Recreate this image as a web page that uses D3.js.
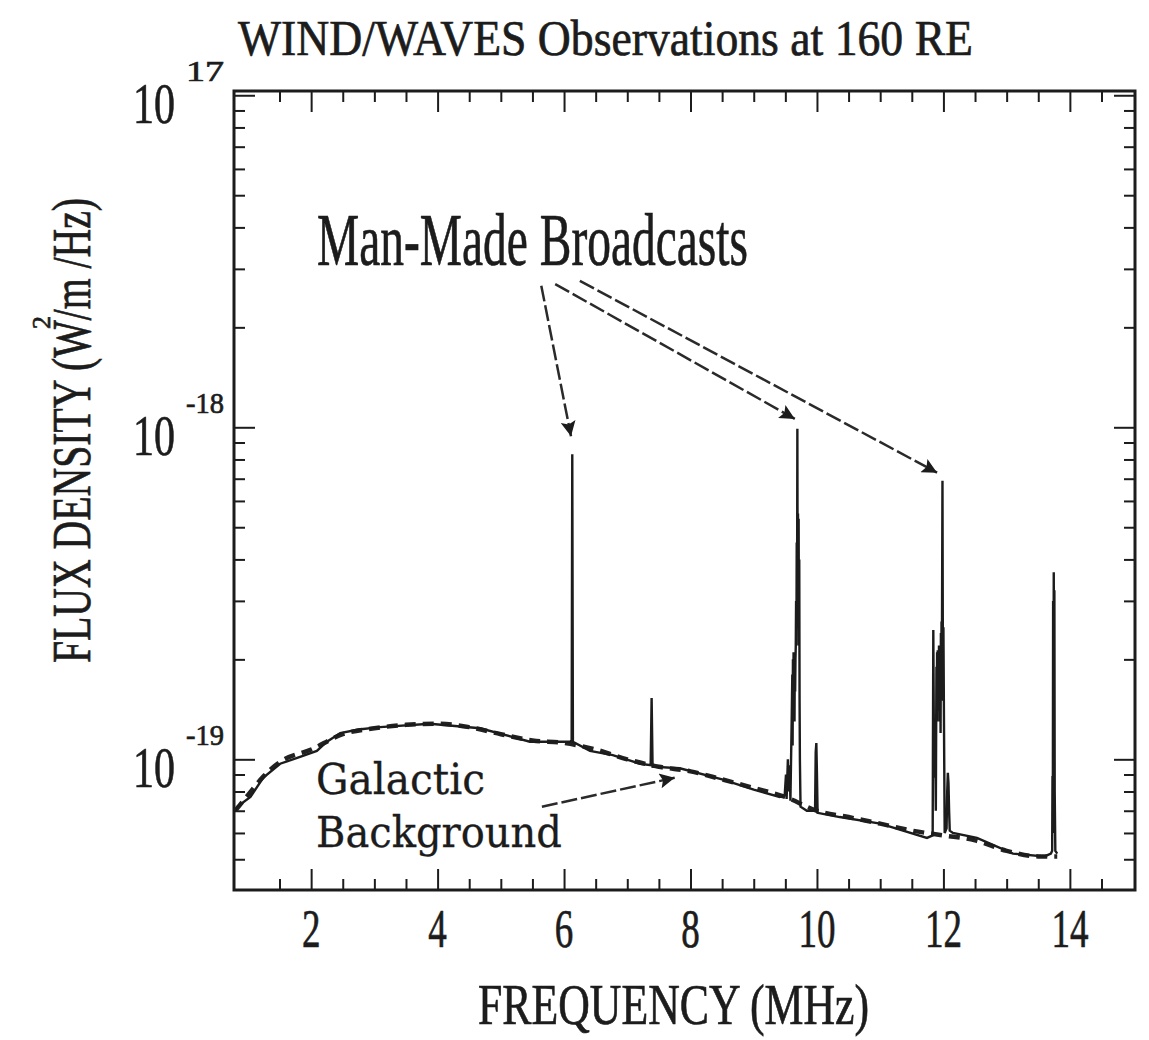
<!DOCTYPE html>
<html>
<head>
<meta charset="utf-8">
<script src="https://cdn.jsdelivr.net/npm/d3@7"></script>
<style>
body { margin: 0; background: #fff; }
text { font-family: "Liberation Serif", "Times New Roman", serif; fill: #1c1c1c; stroke: #1c1c1c; stroke-width: 0.7; }
</style>
</head>
<body>
<div class="canvas"></div>
<script>
// what to show
var freqTicks = [2, 4, 6, 8, 10, 12, 14];
var fluxTicks = [1e-17, 1e-18, 1e-19];
var fluxTickExp = ['17', '-18', '-19'];

// measured spectrum, [MHz, W/m2/Hz]
var spectrum = [
    [0.80, 7.0e-20], [0.83, 7.2e-20], [1.04, 7.7e-20], [1.24, 8.8e-20],
    [1.51, 9.7e-20], [1.78, 1.01e-19], [2.09, 1.06e-19], [2.25, 1.13e-19],
    [2.46, 1.20e-19], [2.75, 1.23e-19], [3.09, 1.25e-19], [3.88, 1.28e-19],
    [4.67, 1.24e-19], [5.46, 1.13e-19], [6.10, 1.13e-19],
    [6.12, 1.14e-19], [6.13, 8.3e-19], [6.14, 1.13e-19],
    [6.41, 1.06e-19], [6.77, 1.03e-19], [7.20, 9.7e-20],
    [7.37, 9.6e-20], [7.385, 1.53e-19], [7.40, 9.5e-20],
    [7.83, 9.4e-20], [8.50, 8.7e-20], [9.00, 8.1e-20], [9.41, 7.7e-20],
    [9.49, 7.8e-20], [9.51, 9.0e-20], [9.52, 7.6e-20], [9.54, 1.0e-19],
    [9.55, 8.0e-20], [9.57, 9.6e-20], [9.58, 7.5e-20], [9.60, 1.3e-19],
    [9.61, 1.8e-19], [9.615, 1.1e-19], [9.62, 2.0e-19], [9.625, 1.4e-19],
    [9.63, 2.1e-19], [9.635, 1.5e-19], [9.64, 2.0e-19], [9.645, 1.3e-19],
    [9.65, 2.1e-19], [9.655, 1.6e-19], [9.66, 2.0e-19], [9.665, 2.2e-19],
    [9.67, 3.0e-19], [9.675, 2.2e-19], [9.68, 4.5e-19], [9.685, 2.5e-19],
    [9.69, 9.9e-19], [9.695, 3.0e-19], [9.70, 5.5e-19], [9.705, 2.8e-19],
    [9.71, 5.3e-19], [9.715, 2.2e-19], [9.72, 4.0e-19], [9.725, 1.5e-19],
    [9.73, 1.0e-19], [9.74, 7.2e-20], [9.84, 7.0e-20],
    [9.97, 7.0e-20], [9.98, 1.05e-19], [9.99, 1.12e-19], [10.00, 9.0e-20],
    [10.01, 6.9e-20], [10.36, 6.7e-20], [11.00, 6.4e-20], [11.74, 5.8e-20],
    [11.83, 5.9e-20], [11.84, 2.45e-19], [11.85, 1.1e-19], [11.86, 8.8e-20],
    [11.87, 1.15e-19], [11.88, 7.0e-20], [11.885, 1.2e-19], [11.89, 1.9e-19],
    [11.895, 1.3e-19], [11.90, 2.1e-19], [11.905, 1.5e-19], [11.91, 2.13e-19],
    [11.915, 1.4e-19], [11.92, 2.1e-19], [11.925, 1.6e-19], [11.93, 2.2e-19],
    [11.935, 1.3e-19], [11.94, 2.1e-19], [11.945, 1.5e-19], [11.95, 2.2e-19],
    [11.955, 1.2e-19], [11.96, 2.4e-19], [11.965, 1.6e-19], [11.97, 2.6e-19],
    [11.975, 1.8e-19], [11.985, 6.9e-19], [11.99, 2.63e-19], [11.995, 1.5e-19],
    [12.00, 2.5e-19], [12.01, 1.2e-19], [12.02, 6.0e-20],
    [12.05, 6.2e-20], [12.06, 8.0e-20], [12.07, 9.1e-20], [12.08, 8.5e-20],
    [12.09, 7.0e-20], [12.10, 6.1e-20], [12.15, 6.0e-20], [12.53, 5.8e-20],
    [13.10, 5.2e-20], [13.60, 5.1e-20], [13.70, 5.2e-20], [13.72, 5.3e-20],
    [13.725, 8.9e-20], [13.73, 6.0e-20], [13.735, 3.0e-19], [13.74, 1.0e-19],
    [13.745, 3.66e-19], [13.75, 1.5e-19], [13.755, 3.23e-19], [13.76, 8.0e-20],
    [13.77, 5.3e-20], [13.80, 5.2e-20]
];

// galactic background model (dashed)
var galactic = [
    [0.80, 7.0e-20], [1.00, 7.8e-20], [1.25, 8.9e-20], [1.50, 9.8e-20],
    [2.00, 1.07e-19], [2.50, 1.19e-19], [3.00, 1.24e-19], [3.50, 1.27e-19],
    [4.00, 1.28e-19], [4.50, 1.25e-19], [5.00, 1.19e-19], [5.50, 1.14e-19],
    [6.00, 1.12e-19], [6.50, 1.07e-19], [7.00, 1.00e-19], [7.50, 9.5e-20],
    [8.00, 9.2e-20], [8.50, 8.7e-20], [9.00, 8.2e-20], [9.50, 7.7e-20],
    [10.00, 7.0e-20], [10.50, 6.7e-20], [11.00, 6.4e-20], [11.50, 6.1e-20],
    [12.00, 5.9e-20], [12.50, 5.7e-20], [13.00, 5.3e-20], [13.50, 5.1e-20],
    [13.80, 5.1e-20]
];

// annotation arrows, [[from], [to]] in MHz / flux
var broadcastArrows = [
    [[5.64, 2.67e-18], [6.11, 9.4e-19]],
    [[5.86, 2.70e-18], [9.65, 1.06e-18]],
    [[6.25, 2.76e-18], [11.90, 7.3e-19]]
];
var galacticArrow = [[5.65, 7.2e-20], [7.75, 8.8e-20]];

// where does it live
var width = 1149,
    height = 1040;

var svg = d3.select('.canvas').append('svg')
    .attr('width', width)
    .attr('height', height);

var x = d3.scaleLinear().domain([0.78, 15.03]).range([234, 1135]),
    y = d3.scaleLog().domain([4.04e-20, 1.03e-17]).range([890, 91]);

var minorFreq = d3.range(3, 30).map(function (d) { return d / 2; })
    .filter(function (d) { return d % 2 !== 0; });
var minorFlux = [];
[-20, -19, -18].forEach(function (e) {
    for (var k = 2; k <= 9; k++) {
        var v = k * Math.pow(10, e);
        if (v > y.domain()[0] && v < y.domain()[1]) minorFlux.push(v);
    }
});

// ticks pointing into the frame on every side
function ticks(axis, pos, values, size) {
    svg.append('g')
        .attr('transform', pos)
        .call(axis.tickValues(values).tickSize(size).tickFormat(''))
        .call(function (g) {
            g.select('.domain').remove();
            g.selectAll('line').attr('stroke', '#1c1c1c').attr('stroke-width', 2);
        });
}
ticks(d3.axisBottom(x), 'translate(0,890)', freqTicks, -21);
ticks(d3.axisBottom(x), 'translate(0,890)', minorFreq, -11);
ticks(d3.axisTop(x), 'translate(0,91)', freqTicks, -21);
ticks(d3.axisTop(x), 'translate(0,91)', minorFreq, -11);
ticks(d3.axisLeft(y), 'translate(234,0)', fluxTicks, -21);
ticks(d3.axisLeft(y), 'translate(234,0)', minorFlux, -11);
ticks(d3.axisRight(y), 'translate(1135,0)', fluxTicks, -21);
ticks(d3.axisRight(y), 'translate(1135,0)', minorFlux, -11);

svg.append('rect')
    .attr('x', 234).attr('y', 91)
    .attr('width', 901).attr('height', 799)
    .attr('fill', 'none')
    .attr('stroke', '#1c1c1c')
    .attr('stroke-width', 3);

var line = d3.line()
    .x(function (d) { return x(d[0]); })
    .y(function (d) { return y(d[1]); });

svg.append('path')
    .datum(galactic)
    .attr('d', line.curve(d3.curveMonotoneX))
    .attr('fill', 'none')
    .attr('stroke', '#222')
    .attr('stroke-width', 4.5)
    .attr('stroke-dasharray', '11,7');

svg.append('path')
    .datum(spectrum)
    .attr('d', line.curve(d3.curveLinear))
    .attr('fill', 'none')
    .attr('stroke', '#1c1c1c')
    .attr('stroke-width', 2.4)
    .attr('stroke-linejoin', 'miter');

// arrows
svg.append('defs').append('marker')
    .attr('id', 'head')
    .attr('viewBox', '0 0 10 10')
    .attr('refX', 10).attr('refY', 5)
    .attr('markerUnits', 'userSpaceOnUse')
    .attr('markerWidth', 24).attr('markerHeight', 15)
    .attr('orient', 'auto')
    .append('path')
    .attr('d', 'M0,0 L10,5 L0,10 L2,5 Z')
    .attr('fill', '#1c1c1c');

broadcastArrows.concat([galacticArrow]).forEach(function (a) {
    svg.append('line')
        .attr('x1', x(a[0][0])).attr('y1', y(a[0][1]))
        .attr('x2', x(a[1][0])).attr('y2', y(a[1][1]))
        .attr('stroke', '#2a2a2a')
        .attr('stroke-width', 2.5)
        .attr('stroke-dasharray', '16,4')
        .attr('marker-end', 'url(#head)');
});

// texts
function label(txt, px, py, size, len, anchor) {
    return svg.append('text')
        .attr('x', px).attr('y', py)
        .attr('font-size', size)
        .attr('text-anchor', anchor || 'start')
        .attr('textLength', len)
        .attr('lengthAdjust', 'spacingAndGlyphs')
        .text(txt);
}

label('WIND/WAVES Observations at 160 RE', 238, 55, 50, 735);
label('Man-Made Broadcasts', 317, 265, 74, 431);
label('FREQUENCY (MHz)', 478, 1024, 56, 391);

label('Galactic', 316, 794, 42, 169)
    .style('font-family', '"DejaVu Serif", serif').style('stroke-width', 0.3);
label('Background', 316, 847, 42, 246)
    .style('font-family', '"DejaVu Serif", serif').style('stroke-width', 0.3);

freqTicks.forEach(function (v) {
    label(String(v), x(v), 947, 54, String(v).length * 18.5, 'middle');
});

fluxTicks.forEach(function (v, i) {
    label('10', 133, y(v) + 28, 58, 42);
    label(fluxTickExp[i], 186, y(v) - 14, 30, 38);
});

// y title, rotated
var yt = svg.append('g').attr('transform', 'translate(90,663) rotate(-90)');
yt.append('text')
    .attr('font-size', 54)
    .attr('textLength', 465)
    .attr('lengthAdjust', 'spacingAndGlyphs')
    .text('FLUX DENSITY (W/m  /Hz)');
yt.append('text')
    .attr('x', 334).attr('y', -40)
    .attr('font-size', 26)
    .text('2');
</script>
</body>
</html>
